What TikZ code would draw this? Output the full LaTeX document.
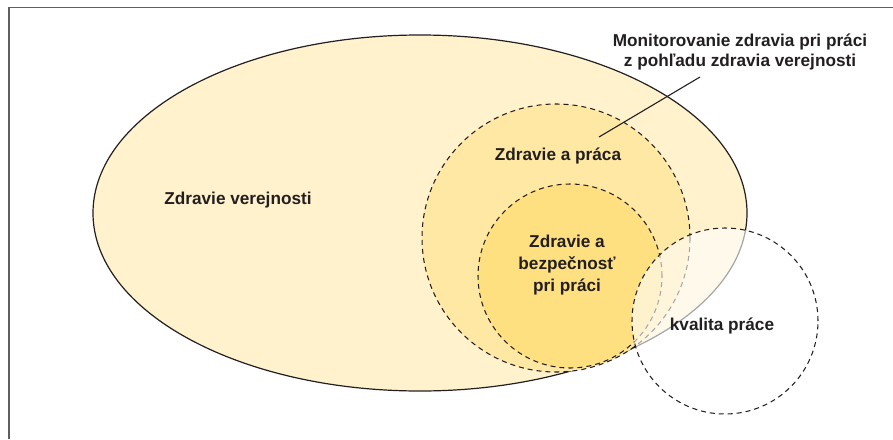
\documentclass[tikz,border=0pt]{standalone}
\usepackage{fontspec}
\setmainfont{Liberation Sans}
\definecolor{cA}{RGB}{255,242,205}
\definecolor{cB}{RGB}{254,232,163}
\definecolor{cC}{RGB}{254,224,128}
\definecolor{txt}{RGB}{35,31,32}
\definecolor{frm}{RGB}{95,95,95}
\begin{document}
\begin{tikzpicture}[x=1pt,y=-1pt,
  lbl/.style={font=\bfseries\fontsize{17.2}{21}\selectfont, text=txt, align=center, inner sep=0pt},
  dsh/.style={draw=txt, line width=1.05pt, dash pattern=on 5pt off 4pt},
  frame/.style={draw=frm, line width=1.6pt}]
\useasboundingbox (0,0) rectangle (893,439);
\draw[frame] (9,439) -- (9,7.5) -- (893,7.5);
% big ellipse
\filldraw[fill=cA, draw=txt, line width=1.2pt] (420,213) ellipse [x radius=327pt, y radius=178pt];
% Zdravie a praca
\path[fill=cB, dsh] (556,238) circle [radius=134pt];
% Zdravie a bezpecnost
\path[fill=cC, dsh] (570,276) circle [radius=92pt];
% kvalita prace overlay
\path[fill=white, fill opacity=0.6, dsh] (725,321) circle [radius=93pt];
% labels
\node[lbl] (zv) at (238,200) {Zdravie verejnosti};
\node[lbl] (zp) at (558,156) {Zdravie a práca};
\node[lbl, font=\bfseries\fontsize{17.2}{22}\selectfont] (zb) at (567,265) {Zdravie a\\bezpečnosť\\pri práci};
\node[lbl] (kp) at (722,326) {kvalita práce};
\node[lbl, font=\bfseries\fontsize{17.2}{20}\selectfont] (mon) at (740,52) {Monitorovanie zdravia pri práci\\z pohľadu zdravia verejnosti};
\coordinate (ldA) at (700,77);
\coordinate (ldB) at (599,137);
\draw[txt, line width=1.1pt] (ldA) -- (ldB);
\end{tikzpicture}
\end{document}
